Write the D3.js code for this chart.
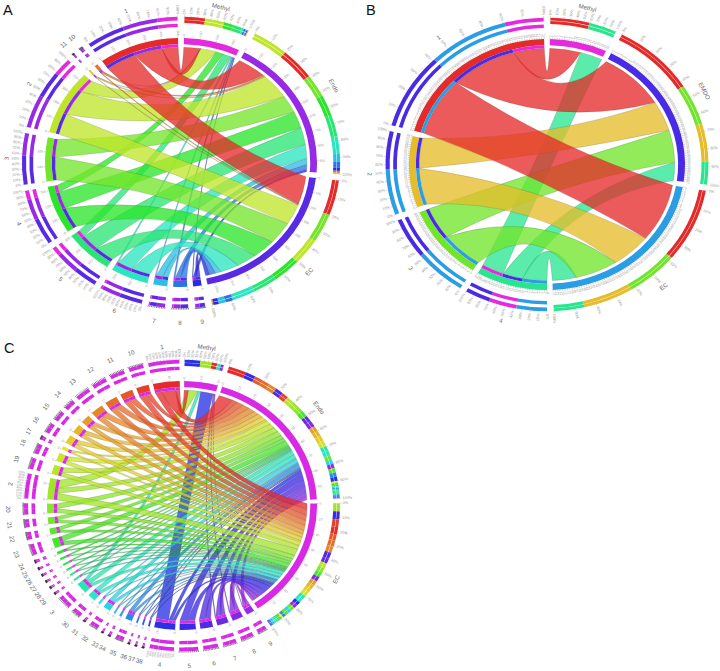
<!DOCTYPE html>
<html><head><meta charset="utf-8"><style>html,body{margin:0;background:#fff}svg{display:block}</style>
<script src="https://cdnjs.cloudflare.com/ajax/libs/d3/7.8.5/d3.min.js"></script></head><body><div id="c"></div>
<script>
// ---------- Panel A ----------
const rowsA = ["1","10","11","2","3","4","5","6","7","8","9"];
const colsA = ["Methyl","Endo","EC"];
const methylA = [110,4,2,102,0,51,50,10,7,10,5];
const endoA   = [187,12,7,193,131,124,124,102,44,36,19];
const ecA     = [204,5,3,153,168,153,131,124,37,41,29];
const rowHuesA = [0,24,48,72,96,120,144,168,192,216,240];
const colHuesA = [302,275,255];
// ---------- Panel B ----------
const rowsB = ["1","2","3","4"];
const colsB = ["Methyl","EMDO","EC"];
const methylB = [14,0,0,10];
const emdoB   = [30,15,16,9];
const ecB     = [29,18,19,11];
const rowHuesB = [0,47,97,153];
const colHuesB = [302,250,203];
// ---------- Panel C ----------
const rowsC = ["1","10","11","12","13","14","15","16","17","18","19","2","20","21","22","23","24","25","26","27","28","29","3","30","31","32","33","34","35","36","37","38","4","5","6","7","8","9"];
const colsC = ["Methyl","Endo","EC"];
const methylC = [2.8,0,0,0,0,0,0,0,0,0,0,5.9,0,0,0,0,0,0,0,0,0,0,2,0,0,0,0,0,0,0,0,0,8.1,0,0,.6,.6,.3];
const endoC   = [9.2,3.5,4.2,4.2,4.2,3.1,3.1,3.1,1.1,3.1,3.5,3.5,3.5,2.5,2.4,3.5,1,.8,.7,.7,.7,.7,2.8,2.7,.8,2.5,.6,.8,2.4,.6,.6,.6,2.4,5.3,4.2,3.5,3.4,2.5];
const ecC     = [4.1,4.2,3.5,3.5,3.5,2.5,2.5,2.5,1,2.5,2.8,4.6,2.8,2,1.8,2.8,.8,.6,.6,.6,.6,.6,2.2,2.2,.6,2,.5,.6,1.8,.5,.5,.5,2.1,4.5,3.5,2.9,2.7,2.1];
const rowHuesC = rowsC.map((d,i)=>i*275/37);
const colHuesC = [296,296,296];

const rad = Math.PI/180;
const svg = d3.select("#c").append("svg").attr("width",720).attr("height",671).attr("viewBox","0 0 720 671");
const colour = h => d3.hsl(h,.78,.53).formatHex();
// control-point radius of a ribbon edge as a function of the angle it spans
const crest = d3.scaleLinear().domain([0,20,60,130,180]).range([.62,.52,.45,.22,0]);

function panel(o){
  const {rows,cols,values,rowHues,colHues,cx,cy,rx,ry,gap,step,tickFont,letter,lx,ly} = o;
  const n = rows.length+cols.length;
  const colTotals = values.map(v=>d3.sum(v));
  const rowTotals = rows.map((_,i)=>d3.sum(values,v=>v[i]));
  const total = d3.sum(colTotals)+d3.sum(rowTotals);
  const toAngle = d3.scaleLinear().domain([0,total]).range([0,360-n*gap]);
  // segments clockwise: columns, then rows in reverse order
  const segs=[]; let cur=gap/2;
  cols.forEach((name,c)=>{const d=toAngle(colTotals[c]);segs.push({name,kind:"col",idx:c,start:cur,end:cur+d,total:colTotals[c],hue:colHues[c]});cur+=d+gap;});
  rows.map((name,i)=>({name,i})).reverse().forEach(({name,i})=>{const d=toAngle(rowTotals[i]);segs.push({name,kind:"row",idx:i,start:cur,end:cur+d,total:rowTotals[i],hue:rowHues[i]});cur+=d+gap;});
  const segCol=c=>segs.find(s=>s.kind==="col"&&s.idx===c), segRow=r=>segs.find(s=>s.kind==="row"&&s.idx===r);
  const k=toAngle(1);
  // ribbon ends
  const ends={};
  cols.forEach((_,c)=>{let a=segCol(c).start;rows.forEach((_,r)=>{const d=values[c][r]*k;ends[c+"-"+r]={a0:a,a1:a+d};a+=d;});});
  rows.forEach((_,r)=>{let a=segRow(r).start;[...cols.keys()].reverse().forEach(c=>{const d=values[c][r]*k;Object.assign(ends[c+"-"+r],{b0:a,b1:a+d});a+=d;});});

  const g=svg.append("g").attr("transform",`translate(${cx},${cy}) scale(1,${ry/rx})`);
  const t=svg.append("g").attr("font-family","Liberation Sans, Arial, sans-serif").attr("opacity",.99);
  const R=rx*.926;
  const P=(deg,r)=>[r*Math.sin(deg*rad),-r*Math.cos(deg*rad)];
  const S=(deg,r)=>[cx+r*Math.sin(deg*rad),cy-r*Math.cos(deg*rad)*ry/rx];
  const ctrl=(x,y)=>{let d=Math.abs(x-y);if(d>180)d=360-d;const vx=Math.sin(x*rad)+Math.sin(y*rad),vy=-Math.cos(x*rad)-Math.cos(y*rad),l=Math.hypot(vx,vy)||1;const q=crest(d)*R;return [vx/l*q,vy/l*q];};
  // ribbons
  [...rows.keys()].reverse().forEach(r=>{
    cols.forEach((_,c)=>{
      if(!values[c][r])return;
      const e=ends[c+"-"+r], p=d3.path();
      p.moveTo(...P(e.a0,R));
      p.arc(0,0,R,(e.a0-90)*rad,(e.a1-90)*rad);
      const c1=ctrl(e.a1,e.b0); p.quadraticCurveTo(c1[0],c1[1],...P(e.b0,R));
      p.arc(0,0,R,(e.b0-90)*rad,(e.b1-90)*rad);
      const c2=ctrl(e.b1,e.a0); p.quadraticCurveTo(c2[0],c2[1],...P(e.a0,R));
      p.closePath();
      g.append("path").attr("d",p.toString()).attr("fill",colour(rowHues[r])).attr("fill-opacity",.77)
        .attr("stroke","#333").attr("stroke-opacity",.42).attr("stroke-width",.4);
    });
  });
  const arc=d3.arc();
  const band=(a0,a1,r0,r1,fill)=>g.append("path").attr("d",arc({startAngle:a0*rad,endAngle:a1*rad,innerRadius:r0*rx,outerRadius:r1*rx})).attr("fill",fill);
  segs.forEach(s=>{
    // main band
    band(s.start,s.end,.95,1,colour(s.hue));
    const parts = s.kind==="row"
      ? cols.map((_,c)=>({hue:colHues[c],v:values[c][s.idx],c}))
      : rows.map((_,r)=>({hue:rowHues[r],v:values[s.idx][r],r}));
    if(s.kind==="row"){
      parts.slice().reverse().filter(d=>d.v).forEach(d=>{const e=ends[d.c+"-"+s.idx];band(e.b0,e.b1,.926,.95,colour(d.hue));});
    }
    // stacked percentage rings, biggest share first
    const rings = s.kind==="row" ? [[1.14,1.17],[1.088,1.115]] : [[1.147,1.17],[1.12,1.144]];
    let a=s.start;
    parts.filter(d=>d.v).sort((x,y)=>y.v-x.v).forEach(d=>{
      const e=a+d.v*k;
      rings.forEach(q=>band(a,e,q[0],q[1],colour(d.hue)));
      a=e;
    });
    // percentage ticks
    const size=s.end-s.start, big=size>8;
    const pct=d3.scaleLinear().domain([0,100]).range([s.start,s.end]);
    const pctFont=Math.min(3.8,size*.3);
    d3.range(0,101,10).forEach(v=>{
      const th=pct(v);
      const p0=S(th,rx*1.17),p1=S(th,rx*1.182);
      t.append("line").attr("x1",p0[0]).attr("y1",p0[1]).attr("x2",p1[0]).attr("y2",p1[1]).attr("stroke",big?"#888":"#222").attr("stroke-width",big?.35:.6);
      if(big) radial(th,rx*1.19,v+"%",pctFont,"#999");
    });
    // value ticks on the main band
    const val=d3.scaleLinear().domain([0,s.total]).range([s.start,s.end]);
    d3.range(0,s.total+1e-6,step).forEach(v=>{
      const th=val(v);
      const p0=S(th,rx),p1=S(th,rx*1.012);
      t.append("line").attr("x1",p0[0]).attr("y1",p0[1]).attr("x2",p1[0]).attr("y2",p1[1]).attr("stroke","#777").attr("stroke-width",.35);
      radial(th,rx*1.018,String(v),tickFont,"#999");
    });
    // segment name
    const mid=(s.start+s.end)/2, q=S(mid,rx*1.285);
    let rot=mid;
    if(mid>90&&mid<270)rot=mid-180;
    t.append("text").attr("text-anchor","middle").attr("dominant-baseline","central").attr("font-size",6.2).attr("fill","#666")
      .attr("transform",`translate(${q[0]},${q[1]}) rotate(${rot})`).text(s.name);
  });
  function radial(th,r,txt,fs,fill){
    const p=S(th,r);
    const ang=Math.atan2(p[1]-cy,p[0]-cx)/rad;
    const right=th<=180;
    t.append("text").attr("font-size",fs).attr("fill",fill).attr("dominant-baseline","central")
      .attr("text-anchor",right?"start":"end")
      .attr("transform",`translate(${p[0]},${p[1]}) rotate(${right?ang:ang+180})`).text(txt);
  }
  svg.append("text").attr("x",lx).attr("y",ly).attr("font-family","Liberation Sans, Arial, sans-serif").attr("font-size",14.5).attr("fill","#111").text(letter);
}

panel({rows:rowsA,cols:colsA,values:[methylA,endoA,ecA],rowHues:rowHuesA,colHues:colHuesA,cx:181,cy:162.5,rx:136,ry:124.5,gap:2.5,step:100,tickFont:3.4,letter:"A",lx:3,ly:15});
panel({rows:rowsB,cols:colsB,values:[methylB,emdoB,ecB],rowHues:rowHuesB,colHues:colHuesB,cx:547,cy:164.5,rx:138,ry:125.5,gap:2.4,step:1,tickFont:2.9,letter:"B",lx:366,ly:15});
panel({rows:rowsC,cols:colsC,values:[methylC,endoC,ecC],rowHues:rowHuesC,colHues:colHuesC,cx:182,cy:505.5,rx:135,ry:124.5,gap:1.9,step:10,tickFont:3.4,letter:"C",lx:4,ly:353});
</script></body></html>
